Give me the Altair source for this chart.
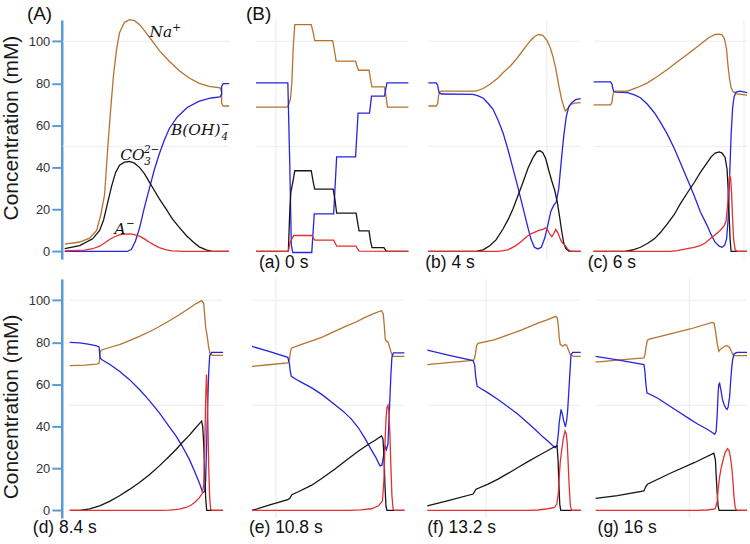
import altair as alt
import pandas as pd

# Concentration profiles (mM) along the separation channel.
# x = position along the channel (arbitrary units, same scale in every panel)

# (A) overview profile
NA_MAIN = [(0, 3.5), (15, 4.5), (25, 6.3), (32, 10), (36, 17), (40, 27), (43, 48), (46, 67), (49, 84),
           (52, 96), (55, 104), (60, 109), (65, 110.3), (70, 109.8), (75, 108), (80, 105), (88, 100),
           (95, 95.5), (105, 90.5), (115, 86), (125, 82.5), (135, 80), (145, 78.5), (156, 77.8),
           (157.5, 76), (157.5, 70.5), (159, 69.2), (165, 69.2)]
BOH_MAIN = [(0, 0), (63, 0), (67, 1), (71, 5), (75, 11), (80, 21), (85, 30), (90, 39), (95, 46.5),
            (100, 53), (105, 58.5), (113, 64), (123, 68.5), (135, 71.5), (147, 73), (156, 73.5),
            (157.5, 75), (157.5, 78.5), (159, 79.8), (165, 79.8)]
CO3_MAIN = [(0, 1.3), (15, 2.8), (28, 6), (35, 10), (39, 15), (43, 23), (47, 31), (51, 37.5), (55, 41),
            (60, 42.5), (65, 42.8), (70, 42), (75, 40), (80, 37), (85, 33), (90, 29), (95, 25),
            (102, 20), (108, 15.5), (115, 11.5), (122, 7.6), (129, 4.5), (135, 2.2), (142, 0.8),
            (148, 0), (165, 0)]
AM_MAIN = [(0, 0.3), (20, 0.6), (28, 1.3), (35, 2.5), (40, 4), (45, 5.7), (50, 7), (55, 7.9), (60, 8.3),
           (65, 8.4), (70, 8), (75, 7.3), (80, 6), (85, 4.4), (90, 3), (95, 1.8), (102, 0.8),
           (108, 0.3), (120, 0), (165, 0)]

# (a) 0 s
NA_0S = [(0, 68.7), (31.5, 68.7), (33, 70), (34.5, 72.4), (36, 80), (37.5, 98), (39, 107.9), (55.5, 107.9),
         (57.5, 104), (59, 100.3), (77, 100.3), (79, 95), (80.5, 90.5), (100, 90.5), (101.5, 88),
         (103, 86.2), (113.5, 86.2), (115, 82), (116.5, 78.3), (129, 78.3), (130.5, 74), (132, 68.7),
         (153, 68.7)]
BOH_0S = [(0, 80.2), (32, 80.2), (34, 40), (35.5, 3), (37, -0.5), (56, -0.5), (58.5, 17.9), (78, 17.9),
          (81, 45), (100, 45), (102.5, 65.8), (114, 65.8), (116, 73.9), (129, 73.9), (131.5, 80.2),
          (153, 80.2)]
CO3_0S = [(0, 0), (32.5, 0), (34, 20), (35, 28.1), (37, 33), (39, 38.4), (55.5, 38.4), (57.5, 33),
          (59, 29.7), (77.5, 29.7), (79.5, 24), (81, 18.2), (100.5, 18.2), (102, 14), (103.5, 9.8),
          (113.5, 9.8), (115, 5), (116.5, 1.8), (128.5, 1.8), (130.5, 0.3), (132, 0), (153, 0)]
AM_0S = [(0, 0), (32.5, 0), (34, 4), (35.5, 5.5), (38, 7.6), (56, 7.6), (57.5, 6.5), (59, 5.4), (78, 5.4),
         (79.5, 4), (81, 2.5), (100.5, 2.5), (102, 1.2), (103.5, 0.2), (153, 0)]

# (b) 4 s
NA_4S = [(0, 69.2), (8, 69.2), (9.5, 70.5), (10, 73), (11, 75.5), (13, 76.3), (48, 76.3), (55, 77.5),
         (62, 79.5), (70, 82.5), (75, 85), (82, 88), (88, 91.3), (94, 95), (98, 97.6), (103, 100.5),
         (107, 102.4), (111, 103.2), (115, 102.8), (119, 100.5), (122, 97.5), (125, 93), (128, 87),
         (131, 79), (134, 72), (137.5, 66.8), (140, 68), (143, 70), (147, 70.6), (153, 70.8)]
BOH_4S = [(0, 80.2), (8, 80.2), (9.5, 79), (10, 77.5), (11, 75.5), (13, 74.9), (45, 74.7), (50, 74),
          (55, 73), (60, 70.5), (65, 67.6), (70, 62.5), (75, 56.5), (80, 48.5), (85, 39.5), (90, 30.5),
          (95, 21), (100, 11.5), (103, 6), (106.5, 2), (110, 1.2), (113.5, 2), (117, 6.5), (120, 12.5),
          (123, 19), (126, 22), (128.5, 23.5), (131, 30), (133.5, 43), (136, 55), (138.5, 64),
          (141, 68.8), (144, 70.8), (148, 72.2), (153, 72.7)]
CO3_4S = [(0, 0), (48, 0), (55, 0.8), (62, 2.8), (68, 5.5), (75, 10.7), (80, 15), (85, 20.2), (90, 26.5),
          (95, 32.8), (100, 39.5), (105, 44.5), (109, 47.5), (112, 47.9), (115, 47), (118, 44),
          (121, 38.5), (124, 33.5), (127, 29), (129.5, 23.5), (132, 16), (134, 9.5), (136, 4),
          (138, 1.5), (141, 0.2), (153, 0)]
AM_4S = [(0, 0), (70, 0), (80, 0.8), (88, 2.8), (94, 5), (98, 6.8), (103, 8.4), (107, 9.2), (111, 10),
         (115, 10.5), (118, 11.2), (120, 10), (122, 8.2), (124, 7), (126, 8.5), (128, 10.5), (130, 9),
         (132, 6.5), (134, 4.5), (136, 3.5), (138, 2.5), (140, 1), (143, 0.2), (153, 0)]

# (c) 6 s
NA_6S = [(0, 69.7), (17, 69.7), (18.5, 71), (19, 73.5), (20, 75.7), (22, 76.3), (34, 76.3), (44, 78),
         (54, 80.2), (64, 83.2), (74, 86.6), (84, 90.2), (94, 93.7), (104, 97.4), (111, 100),
         (116, 101.8), (122, 103.2), (126, 103.4), (129, 103), (131.5, 101), (133.5, 96), (135, 88),
         (136.5, 82), (138, 78), (140, 76), (144, 75), (154, 74.4)]
BOH_6S = [(0, 80.7), (17, 80.7), (18.5, 79.5), (19, 78), (20, 76.3), (22, 75.8), (34, 75.6), (41, 74.5),
          (47, 73.1), (54, 70), (61, 66), (67, 61.5), (74, 55.8), (81, 49), (87, 42.3), (94, 34.5),
          (101, 26.5), (107, 19), (114, 12.3), (118, 8), (122, 4.4), (126, 2.5), (129, 2), (131.5, 3),
          (133.5, 6), (135, 15), (136.5, 35), (138, 55), (139.5, 68), (141, 73.5), (143, 75.8),
          (147, 76.3), (154, 75.5)]
CO3_6S = [(0, 0), (31, 0), (39, 0.7), (47, 2), (54, 3.8), (61, 6), (67, 9), (74, 13.1), (81, 17.6),
          (87, 22.6), (94, 27.8), (101, 32.8), (107, 37.5), (114, 42.3), (118, 45), (122, 46.8),
          (126, 47.4), (129, 46.8), (132, 44.7), (134, 39), (135, 30), (136, 18), (137, 6), (138, 0),
          (154, 0)]
AM_6S = [(0, 0), (77, 0), (84, 0.4), (94, 1.3), (101, 2), (107, 2.8), (112, 4), (117, 6), (122, 8),
         (127, 10), (131, 12.2), (133, 14.5), (134.5, 22), (135.5, 30), (136.5, 36), (137.5, 35),
         (138.5, 28), (139.5, 16), (140.5, 6), (142, 1), (144, 0), (154, 0)]

# (d) 8.4 s
NA_84S = [(0, 68.9), (15, 69.1), (27, 69.6), (29.5, 70), (30, 72), (30.5, 75), (31.5, 76.2), (40, 77.5),
          (50, 78.9), (60, 80.8), (70, 82.8), (80, 85), (90, 87.5), (100, 90.2), (110, 93.1), (120, 96.2),
          (127, 98.4), (132.5, 99.8), (134.5, 98.5), (135.5, 93), (136.5, 87), (138, 83), (139.5, 77.5),
          (141, 74.3), (144, 73.8), (154, 73.8)]
BOH_84S = [(0, 79.9), (10, 79.7), (20, 79), (27, 78.3), (29.5, 77.8), (30, 75), (30.5, 72.5), (32, 71.8),
           (40, 69.5), (50, 66.2), (60, 62.2), (70, 57.5), (80, 52.2), (90, 46.4), (100, 39.8),
           (107, 35.2), (113, 30.5), (120, 24.4), (125, 19), (130, 13.3), (133.5, 8.5), (135.5, 9),
           (136.5, 15), (137.5, 32), (138.5, 50), (139.5, 65), (140.5, 73.5), (142.5, 75.2), (154, 75.2)]
CO3_84S = [(0, 0), (10, 0), (20, 0.7), (30, 2.2), (40, 4.3), (50, 7), (60, 10), (70, 13.3), (80, 17),
           (90, 21.2), (100, 25.8), (107, 29.1), (113, 32.3), (120, 35.7), (125, 38.5), (130, 41.2),
           (132.5, 42.5), (133.5, 40), (134.5, 32), (135.5, 18), (136.5, 6), (137.5, 0), (154, 0)]
AM_84S = [(0, 0), (90, 0), (100, 0.1), (110, 0.6), (117, 1.4), (122, 2.6), (126, 4), (130, 6), (133, 8),
          (134.5, 12), (135.5, 30), (136.5, 52), (137.3, 64.6), (138, 58), (138.7, 42), (139.5, 22),
          (140.5, 6), (141.5, 0.5), (143, 0), (154, 0)]

# (e) 10.8 s
NA_108S = [(0, 68.5), (17, 69.3), (36, 70.2), (37.5, 71.5), (38.5, 75), (39.5, 77.2), (47, 78.5),
           (60, 80.6), (70, 82.3), (83, 85.2), (95, 87.8), (104, 89.5), (112, 91.5), (122, 93.6),
           (130, 95), (131.8, 93.5), (132.8, 88), (133.8, 81.5), (135, 80.5), (136.5, 80.2), (138, 78),
           (139.5, 75.5), (141.3, 73.3), (153, 73.3)]
BOH_108S = [(0, 78), (17, 75.6), (36, 72.8), (37.5, 70), (38.5, 66), (39.5, 63.8), (47, 61.6), (60, 58.3),
            (70, 55.2), (83, 50.4), (92, 47), (100, 43.3), (107, 39.2), (114, 33.8), (119, 29.5),
            (124, 25.5), (128.5, 21.2), (130.5, 21.5), (132.5, 27), (133.8, 30.5), (135, 29),
            (136.5, 31.5), (138, 48), (139.5, 65), (140.5, 73), (142, 74.9), (153, 74.9)]
CO3_108S = [(0, 0), (17, 2.5), (36, 5.1), (38, 5.8), (40, 7.5), (47, 9), (60, 12), (70, 15.2), (83, 19.6),
            (95, 24), (107, 28.3), (117, 31.5), (124, 33.5), (130, 35.4), (131.5, 34), (132.5, 26),
            (133.5, 12), (134.5, 2), (135.5, 0), (153, 0)]
AM_108S = [(0, 0), (97, 0), (109, 0.3), (120, 0.8), (127, 2.2), (131, 4.5), (132.5, 15), (133.5, 32),
           (134.5, 43), (135.5, 48.8), (136.5, 50), (137.5, 47), (138.5, 36), (139.5, 20), (140.5, 7),
           (141.7, 0.5), (143, 0), (153, 0)]

# (f) 13.2 s
NA_132S = [(0, 69.4), (21, 70.3), (46, 71.4), (47.5, 72.5), (48.5, 75), (49.5, 78.5), (51, 79.5),
           (68, 81.2), (81, 83.5), (91, 85.2), (101, 87.1), (111, 89.1), (121, 90.8), (129, 92.3),
           (130.5, 91.5), (131.5, 88), (132.5, 82), (133.5, 79), (136, 78.1), (138.3, 78.9), (140, 78.5),
           (141.5, 76.5), (143.5, 74.1), (147, 73.3), (154, 73.3)]
BOH_132S = [(0, 76.2), (21, 73.9), (46, 71.3), (47.5, 69.4), (48.5, 64), (50, 59.1), (61, 55.9),
            (71, 52.8), (81, 49.3), (91, 45.7), (101, 41.6), (108, 38.6), (116, 35), (121, 33),
            (125, 31.2), (128.3, 29.9), (130, 30.5), (131.5, 36), (132.5, 42), (134.3, 48.1), (136, 45),
            (137, 42.5), (138.7, 39.8), (140, 43), (141, 48.1), (142, 56), (143, 64), (144.3, 74.1),
            (146, 75.2), (154, 75.2)]
CO3_132S = [(0, 2.2), (21, 4.7), (46, 7.8), (47.5, 9), (49, 10.1), (61, 12.5), (71, 14.9), (81, 17.6),
            (91, 20.4), (101, 23.2), (111, 25.9), (121, 28.5), (127.7, 30.3), (130.3, 30.7),
            (131.3, 24), (132, 14), (133, 3), (134, 0), (154, 0)]
AM_132S = [(0, 0), (101, 0), (111, 0.2), (121, 0.8), (127.7, 1.4), (130, 3), (131.5, 8), (132.5, 16),
           (133.5, 23), (135, 29), (136.5, 34), (138.3, 37.8), (139.5, 36.5), (140.5, 32), (141.5, 22),
           (142.5, 11), (143.7, 2), (145, 0), (154, 0)]

# (g) 16 s
NA_16S = [(0, 70.5), (22, 71.5), (48.5, 72.5), (49.5, 74), (50.5, 77.3), (52, 81), (54, 81.5),
          (72, 83.6), (95, 86.3), (117, 89.4), (119, 89), (120.5, 85), (122, 79.6), (123.7, 75.7),
          (125, 76.5), (127, 77.3), (130, 78.2), (132, 78.4), (134, 77.8), (135.5, 76.5), (137.5, 74.3),
          (139, 73.6), (152, 73.6)]
BOH_16S = [(0, 73.3), (22, 71.6), (48.5, 69.4), (49.5, 66), (50.5, 60), (51.5, 55.9), (62, 53.5),
           (72, 50.4), (82, 47.3), (95, 43.3), (102, 41.2), (112, 38.6), (116, 37.4), (119.5, 36.2),
           (121, 37.5), (122, 45), (123, 56), (123.7, 60), (124.5, 60.5), (126, 56.7), (127.5, 52.5),
           (129, 50.4), (130.5, 48.8), (132, 48.1), (133, 49), (134.5, 54), (135.5, 61), (136.5, 67),
           (137.5, 71.5), (139, 74.5), (142, 75.2), (152, 75.2)]
CO3_16S = [(0, 5.7), (22, 7), (48.5, 9.3), (50, 11), (52, 12.5), (75, 17.7), (99, 22.7), (118.7, 27.2),
           (120.3, 24), (121, 17), (122, 8.5), (123, 2), (124, 0), (152, 0)]
AM_16S = [(0, 0), (102, 0), (112, 0.2), (120, 0.7), (122, 4), (123, 10), (124.5, 16), (126, 20),
          (128, 24), (130, 27.5), (132.5, 29.4), (134, 28.5), (135.5, 25), (137, 19), (138, 13),
          (139, 6), (140.3, 1), (142, 0), (152, 0)]

# Species labels in panel A: (text, x, y, font size); scripts are stacked after the base text
SPECIES_LABELS = [("Na", 85, 102.0, 15.5), ("+", 108, 104.8, 10.5),
                  ("CO", 55.7, 43.3, 15.5), ("2\u2212", 79.5, 46.6, 10.5), ("3", 79.8, 41.2, 10.5),
                  ("B(OH)", 106.7, 55.5, 15.5), ("\u2212", 157, 58.8, 10.5), ("4", 157.5, 52.8, 10.5),
                  ("A", 50, 8.1, 15.5), ("\u2212", 61.5, 11.8, 10.5)]

BROWN = "#b6732f"
BLUE = "#2525e0"
BLACK = "#151515"
RED = "#e2302e"
GRID = "#ebebeb"
AXIS_BLUE = "#5b9bd5"
Y_DOMAIN = [-3.6, 110.1]
PANEL_H = 240


def to_df(pairs):
    return pd.DataFrame({"x": [p[0] for p in pairs], "c": [p[1] for p in pairs],
                         "i": list(range(len(pairs)))})


def panel(curves, width, xdom, span, vlines, labels, y_axis=False, title_y=None):
    xs = alt.Scale(domain=xdom, nice=False, zero=False)
    ys = alt.Scale(domain=Y_DOMAIN, nice=False, zero=False)
    if y_axis:
        yax = alt.Axis(values=[0, 20, 40, 60, 80, 100], title="Concentration (mM)",
                       titleFontSize=21, titleFont="Liberation Sans", titleFontWeight="normal",
                       titleColor="#1a1a1a", titlePadding=7, titleY=title_y,
                       labelFontSize=13, labelFont="Liberation Sans", labelColor="#333333",
                       labelPadding=2, tickSize=10, tickColor=AXIS_BLUE, tickWidth=2,
                       domainColor=AXIS_BLUE, domainWidth=2.5, grid=False)
    else:
        yax = None
    layers = []
    hgrid = pd.DataFrame({"y": [50, 100], "x0": [span[0]] * 2, "x1": [span[1]] * 2})
    layers.append(alt.Chart(hgrid).mark_rule(color=GRID, strokeWidth=1).encode(
        x=alt.X("x0:Q", scale=xs, axis=None), x2="x1:Q",
        y=alt.Y("y:Q", scale=ys, axis=yax)))
    if vlines:
        layers.append(alt.Chart(pd.DataFrame({"x": vlines})).mark_rule(color=GRID, strokeWidth=1).encode(
            x=alt.X("x:Q", scale=xs, axis=None)))
    for pairs, color in curves:
        layers.append(alt.Chart(to_df(pairs)).mark_line(color=color, strokeWidth=1.3).encode(
            x=alt.X("x:Q", scale=xs, axis=None),
            y=alt.Y("c:Q", scale=ys, axis=yax),
            order=alt.Order("i:Q")))
    for text, x, y, size, font, style in labels:
        layers.append(alt.Chart(pd.DataFrame({"x": [x], "y": [y], "t": [text]})).mark_text(
            align="left", baseline="alphabetic", fontSize=size, font=font, fontStyle=style,
            color="#111111").encode(
            x=alt.X("x:Q", scale=xs, axis=None),
            y=alt.Y("y:Q", scale=ys, axis=yax),
            text="t:N"))
    return alt.layer(*layers).properties(width=width, height=PANEL_H)


SANS = "Liberation Sans"
SERIF = "DejaVu Serif"


def tag(text, x, y, size=17.5):
    return (text, x, y, size, SANS, "normal")


main_labels = [(t, x, y, s, SERIF, "italic") for t, x, y, s in SPECIES_LABELS] + [tag("(A)", -38, 110.0, 19)]

top = alt.hconcat(
    panel([(NA_MAIN, BROWN), (BOH_MAIN, BLUE), (CO3_MAIN, BLACK), (AM_MAIN, RED)],
          195, [-3, 192], [-2, 165], [], main_labels, y_axis=True, title_y=108),
    panel([(NA_0S, BROWN), (BOH_0S, BLUE), (CO3_0S, BLACK), (AM_0S, RED)],
          173, [0, 173], [0, 153], [20], [tag("(B)", -10, 110.0, 19), tag("(a) 0 s", 3, -8)]),
    panel([(NA_4S, BROWN), (BOH_4S, BLUE), (CO3_4S, BLACK), (AM_4S, RED)],
          166, [0, 166], [0, 153], [119], [tag("(b) 4 s", -3, -8)]),
    panel([(NA_6S, BROWN), (BOH_6S, BLUE), (CO3_6S, BLACK), (AM_6S, RED)],
          154, [0, 154], [0, 154], [151], [tag("(c) 6 s", -6, -8)]),
    spacing=0, bounds="flush")

bottom = alt.hconcat(
    panel([(NA_84S, BROWN), (BOH_84S, BLUE), (CO3_84S, BLACK), (AM_84S, RED)],
          191, [-8, 183], [0, 154], [], [tag("(d) 8.4 s", -37, -10.5)], y_axis=True, title_y=128),
    panel([(NA_108S, BROWN), (BOH_108S, BLUE), (CO3_108S, BLACK), (AM_108S, RED)],
          176, [0, 176], [0, 153], [24], [tag("(e) 10.8 s", -3, -10.5)]),
    panel([(NA_132S, BROWN), (BOH_132S, BLUE), (CO3_132S, BLACK), (AM_132S, RED)],
          169, [0, 169], [0, 154], [59], [tag("(f) 13.2 s", 0, -10.5)]),
    panel([(NA_16S, BROWN), (BOH_16S, BLUE), (CO3_16S, BLACK), (AM_16S, RED)],
          152, [0, 152], [0, 152], [94], [tag("(g) 16 s", 2, -10.5)]),
    spacing=0, bounds="flush")

chart = alt.vconcat(top, bottom, spacing=6).properties(
    padding={"left": 0, "top": 4, "right": 0, "bottom": 0},
    background="white",
).configure_view(stroke=None)

chart.save("out.html", embed_options={"renderer": "svg", "actions": False})
